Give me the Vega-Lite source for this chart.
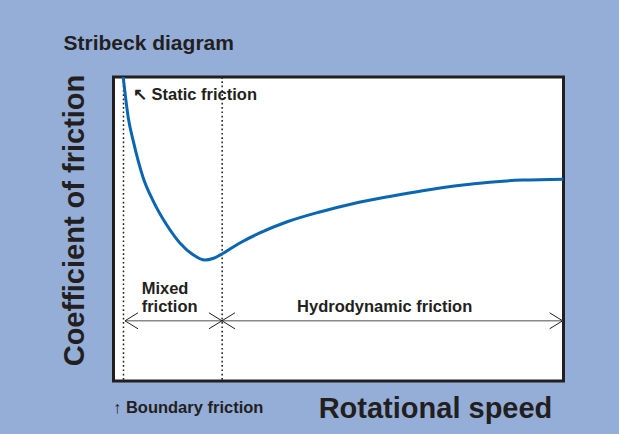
{
  "$schema": "https://vega.github.io/schema/vega-lite/v6.json",
  "width": 450,
  "height": 304,
  "autosize": {"type": "none"},
  "padding": {"left": 113.5, "top": 77, "right": 55.5, "bottom": 53},
  "background": "#94aed8",
  "title": {
    "text": "Stribeck diagram",
    "anchor": "start",
    "frame": "group",
    "offset": 24,
    "baseline": "alphabetic",
    "dx": -50,
    "dy": 21,
    "font": "Liberation Sans",
    "fontSize": 21,
    "fontWeight": "bold",
    "color": "#231f20"
  },
  "config": {
    "font": "Liberation Sans",
    "view": {"fill": "white", "stroke": "#231f20", "strokeWidth": 3},
    "axis": {"domain": false, "ticks": false, "labels": false, "grid": false}
  },
  "datasets": {
    "curve": [
      {"speed": 1.85, "friction": 104},
      {"speed": 2.18, "friction": 99.7},
      {"speed": 3.29, "friction": 86.5},
      {"speed": 4.4, "friction": 78.9},
      {"speed": 6.61, "friction": 66.8},
      {"speed": 8.83, "friction": 59.2},
      {"speed": 11.81, "friction": 51.4},
      {"speed": 14.76, "friction": 45.4},
      {"speed": 17.71, "friction": 41.5},
      {"speed": 20.31, "friction": 39.8},
      {"speed": 22.1, "friction": 40.3},
      {"speed": 23.64, "friction": 41.4},
      {"speed": 28.08, "friction": 45.4},
      {"speed": 32.52, "friction": 48.7},
      {"speed": 38.45, "friction": 52.3},
      {"speed": 45.84, "friction": 55.6},
      {"speed": 53.16, "friction": 58.3},
      {"speed": 61.38, "friction": 60.7},
      {"speed": 68.7, "friction": 62.6},
      {"speed": 76.18, "friction": 64.2},
      {"speed": 83.57, "friction": 65.4},
      {"speed": 90.9, "friction": 66.1},
      {"speed": 100, "friction": 66.4}
    ],
    "boundaries": [
      {"boundary": "Boundary / mixed", "speed": 2.22},
      {"boundary": "Mixed / hydrodynamic", "speed": 24.15}
    ],
    "zones": [
      {"zone": "Mixed friction", "speed": 2.55, "speed_end": 24.1},
      {"zone": "Hydrodynamic friction", "speed": 24.1, "speed_end": 99.8}
    ],
    "labels": [
      {"label": "↖ Static friction", "speed": 4.33, "friction": 92.4},
      {"label": "Mixed\nfriction", "speed": 6.26, "friction": 28.6},
      {"label": "Hydrodynamic friction", "speed": 40.8, "friction": 22.7},
      {"label": "↑ Boundary friction", "speed": -0.1, "friction": -10.5}
    ]
  },
  "layer": [
    {
      "data": {"name": "boundaries"},
      "mark": {"type": "rule", "color": "#231f20", "strokeWidth": 1.5, "strokeDash": [1.7, 2.6]},
      "encoding": {
        "x": {
          "field": "speed",
          "type": "quantitative",
          "scale": {"domain": [0, 100], "nice": false, "zero": false},
          "axis": {
            "title": "Rotational speed",
            "titleFont": "Liberation Sans",
            "titleFontSize": 29,
            "titleFontWeight": "bold",
            "titleColor": "#231f20",
            "titleAlign": "center",
            "titleBaseline": "alphabetic",
            "titleAnchor": null,
            "titleX": 321.5,
            "titleY": 36
          }
        }
      }
    },
    {
      "data": {"name": "curve"},
      "mark": {"type": "line", "color": "#0b66b2", "strokeWidth": 3, "clip": true, "interpolate": "monotone"},
      "encoding": {
        "x": {"field": "speed", "type": "quantitative"},
        "y": {
          "field": "friction",
          "type": "quantitative",
          "scale": {"domain": [0, 100], "nice": false, "zero": false},
          "axis": {
            "title": "Coefficient of friction",
            "titleFont": "Liberation Sans",
            "titleFontSize": 29,
            "titleFontWeight": "bold",
            "titleColor": "#231f20",
            "titleAngle": 270,
            "titleAlign": "center",
            "titleBaseline": "alphabetic",
            "titleAnchor": null,
            "titleX": -30.5,
            "titleY": 143
          }
        }
      }
    },
    {
      "data": {"name": "zones"},
      "mark": {"type": "rule", "color": "#8a8a8a", "strokeWidth": 1.5},
      "encoding": {
        "x": {"field": "speed", "type": "quantitative"},
        "x2": {"field": "speed_end"},
        "y": {"datum": 19.8}
      }
    },
    {
      "data": {"name": "zones"},
      "mark": {"type": "point", "shape": "M3.25,-2L0,0L3.25,2", "size": 64, "filled": false, "stroke": "#231f20", "strokeWidth": 1, "opacity": 1},
      "encoding": {
        "x": {"field": "speed", "type": "quantitative"},
        "y": {"datum": 19.8}
      }
    },
    {
      "data": {"name": "zones"},
      "mark": {"type": "point", "shape": "M-3.25,-2L0,0L-3.25,2", "size": 64, "filled": false, "stroke": "#231f20", "strokeWidth": 1, "opacity": 1},
      "encoding": {
        "x": {"field": "speed_end", "type": "quantitative"},
        "y": {"datum": 19.8}
      }
    },
    {
      "data": {"name": "labels"},
      "mark": {"type": "text", "align": "left", "baseline": "alphabetic", "font": "Liberation Sans", "fontSize": 16.5, "fontWeight": "bold", "color": "#231f20", "lineBreak": "\n", "lineHeight": 18},
      "encoding": {
        "x": {"field": "speed", "type": "quantitative"},
        "y": {"field": "friction", "type": "quantitative"},
        "text": {"field": "label"}
      }
    }
  ]
}
